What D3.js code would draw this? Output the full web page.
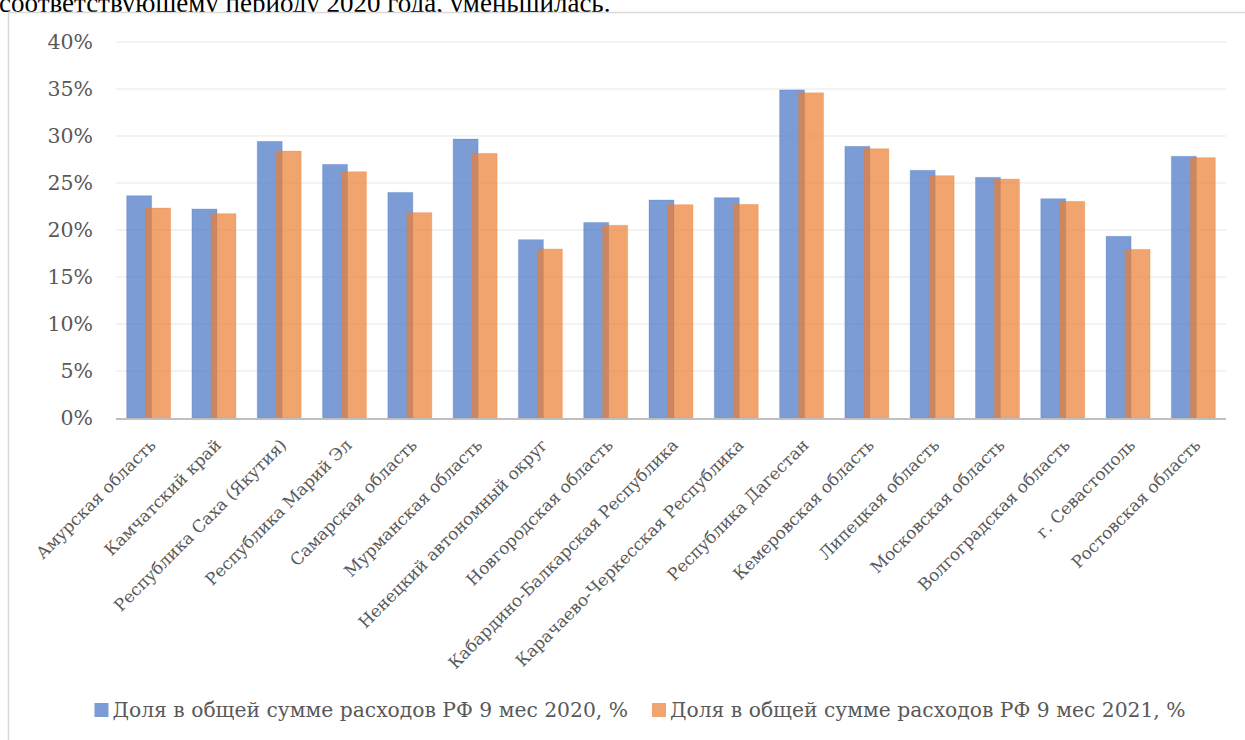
<!DOCTYPE html>
<html>
<head>
<meta charset="utf-8">
<script src="https://cdn.jsdelivr.net/npm/d3@7"></script>
<style>
	body { margin: 0; background: #fff; overflow: hidden; }
	svg { display: block; }
	.tick-y, .cat, .legend-text { fill: #595959; font-family: "DejaVu Serif", serif; }
</style>
</head>
<body>
<svg id="chart" width="1245" height="740"></svg>
<script>
var categories = ["Амурская область", "Камчатский край", "Республика Саха (Якутия)", "Республика Марий Эл",
			"Самарская область", "Мурманская область", "Ненецкий автономный округ", "Новгородская область",
			"Кабардино-Балкарская Республика", "Карачаево-Черкесская Республика", "Республика Дагестан",
			"Кемеровская область", "Липецкая область", "Московская область", "Волгоградская область",
			"г. Севастополь", "Ростовская область"];
var share2020 = [23.65, 22.23, 29.43, 26.98, 24.0, 29.68, 18.97, 20.8, 23.19, 23.44, 34.9, 28.9, 26.35, 25.6, 23.33, 19.33, 27.84];
var share2021 = [22.34, 21.74, 28.4, 26.2, 21.85, 28.15, 17.98, 20.5, 22.7, 22.73, 34.6, 28.65, 25.78, 25.42, 23.05, 17.94, 27.7];
var yTicks = [0, 5, 10, 15, 20, 25, 30, 35, 40];
var seriesNames = ["Доля в общей сумме расходов РФ 9 мес 2020, %", "Доля в общей сумме расходов РФ 9 мес 2021, %"];
var colors = ["#4472C4", "#ED7D31"];

var svg = d3.select("#chart");

// text of the document above the chart, cut by the top edge
svg.append("text")
	.attr("x", -1)
	.attr("y", 12)
	.attr("font-family", "'Liberation Serif', serif")
	.attr("font-size", 27)
	.attr("fill", "#000")
	.text("соответствующему периоду 2020 года, уменьшилась.");

// chart frame
svg.append("rect")
	.attr("x", 8.5).attr("y", 12.5)
	.attr("width", 1300).attr("height", 800)
	.attr("fill", "#fff")
	.attr("stroke", "#d9d9d9")
	.attr("stroke-width", 1.5);

var x = d3.scaleBand().domain(categories).range([116, 1226]).padding(0);
var y = d3.scaleLinear().domain([0, 40]).range([418, 42]);

var step = x.step(),
	barW = step * 0.383,
	shift = step * 0.291,
	offset = (step - barW - shift) / 2;

// gridlines
svg.append("g").selectAll("line")
	.data(yTicks.filter(function(d){return d > 0;}))
	.enter().append("line")
	.attr("x1", 116).attr("x2", 1226)
	.attr("y1", function(d){return y(d);})
	.attr("y2", function(d){return y(d);})
	.attr("stroke", "#efefef")
	.attr("stroke-width", 1.3);

// y labels
svg.append("g").selectAll("text")
	.data(yTicks)
	.enter().append("text")
	.attr("class", "tick-y")
	.attr("x", 93)
	.attr("y", function(d){return y(d);})
	.attr("dy", "0.35em")
	.attr("text-anchor", "end")
	.attr("font-size", 20.5)
	.text(function(d){return d + "%";});

// bars
[share2020, share2021].forEach(function(series, s) {
	svg.append("g").selectAll("rect")
		.data(series)
		.enter().append("rect")
		.attr("x", function(d, i){return x(categories[i]) + offset + s * shift;})
		.attr("y", function(d){return y(d);})
		.attr("width", barW)
		.attr("height", function(d){return y(0) - y(d);})
		.attr("fill", colors[s])
		.attr("fill-opacity", 0.7)
		.attr("stroke", colors[s])
		.attr("stroke-opacity", 0.25)
		.attr("stroke-width", 1);
});

// axis line
svg.append("line")
	.attr("x1", 116).attr("x2", 1226)
	.attr("y1", y(0) + 1).attr("y2", y(0) + 1)
	.attr("stroke", "#bfbfbf")
	.attr("stroke-width", 2);

// category labels
svg.append("g").selectAll("text")
	.data(categories)
	.enter().append("text")
	.attr("class", "cat")
	.attr("font-size", 16.8)
	.attr("text-anchor", "end")
	.attr("dy", "0.35em")
	.attr("transform", function(d){
		return "translate(" + (x(d) + step / 2 + 4) + "," + (y(0) + 24) + ") rotate(-45)";
	})
	.text(function(d){return d;});

// legend
var legend = svg.append("g");
var items = legend.selectAll("g")
	.data(seriesNames)
	.enter().append("g");

items.append("rect")
	.attr("width", 14).attr("height", 14)
	.attr("y", -14)
	.attr("fill", function(d, i){return colors[i];})
	.attr("fill-opacity", 0.7);

items.append("text")
	.attr("class", "legend-text")
	.attr("x", 18)
	.attr("font-size", 20.3)
	.text(function(d){return d;});

var pos = 0, widths = [];
items.each(function(){
	widths.push(this.getBBox().width);
});
var total = d3.sum(widths) + 24 * (widths.length - 1);
pos = 640 - total / 2;
items.attr("transform", function(d, i){
	var t = "translate(" + pos + ",717)";
	pos += widths[i] + 24;
	return t;
});
</script>
</body>
</html>
